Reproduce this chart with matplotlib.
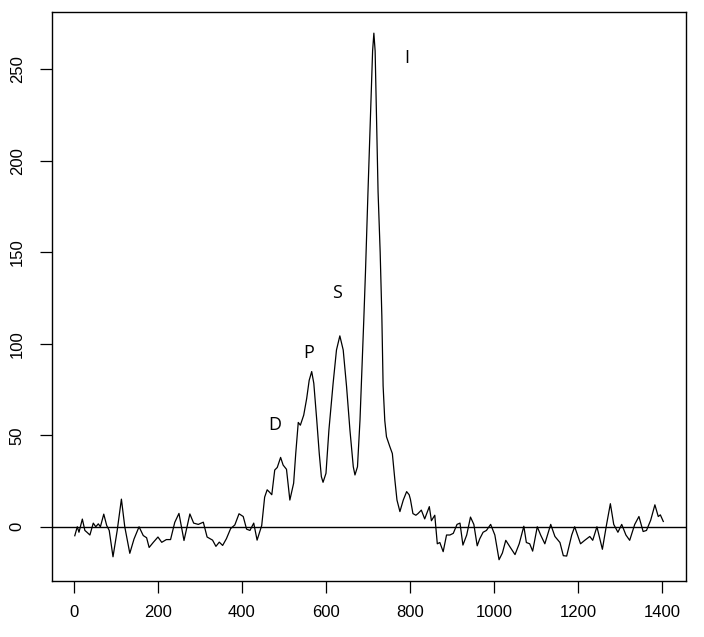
import numpy as np
import matplotlib
matplotlib.use("Agg")
import matplotlib.pyplot as plt

# traced signal (position, intensity)
pos = [2, 8, 12, 20, 26, 31, 38, 46, 52, 58, 63, 71, 78, 84, 93, 103, 113, 121,
       133, 143, 155, 165, 173, 179, 189, 200, 209, 220, 230, 240, 250, 262, 276,
       285, 296, 308, 317, 330, 338, 346, 354, 363, 373, 383, 393, 403, 411, 419,
       428, 436, 447, 454, 460, 466, 471, 478, 484, 492, 498, 506, 514, 523, 528,
       534, 539, 547, 554, 560, 566, 571, 578, 584, 589, 593, 600, 607, 617, 625,
       633, 641, 649, 657, 665, 669, 675, 681, 687, 690, 694, 700, 708, 711, 714,
       717, 719, 724, 729, 733, 736, 740, 744, 752, 758, 764, 769, 776, 784, 792,
       798, 801, 807, 814, 819, 827, 835, 846, 851, 859, 865, 871, 879, 887, 895,
       903, 912, 919, 926, 935, 944, 952, 960, 966, 974, 982, 992, 1002, 1012,
       1020, 1028, 1038, 1050, 1060, 1071, 1077, 1085, 1092, 1103, 1111, 1121,
       1135, 1145, 1157, 1165, 1173, 1185, 1192, 1206, 1216, 1228, 1235, 1245,
       1258, 1268, 1277, 1285, 1295, 1304, 1314, 1323, 1335, 1345, 1355, 1363,
       1373, 1383, 1391, 1396, 1403]
signal = [-4.9, 0, -3, 4.2, -2, -3, -4.5, 2, 0, 1.6, 0, 6.9, 0.7, -2, -16.4, -2,
          15.1, 0, -14.5, -6.7, 0, -4.8, -6, -11.3, -8.5, -5.6, -8.5, -7, -7, 2.4,
          7.3, -7.5, 7, 2, 1.3, 2.5, -5.6, -7.3, -10.7, -8.4, -10.2, -6.5, -1, 1,
          7.1, 5.6, -1.3, -2, 2, -7.3, 0.7, 16.2, 20.2, 18.8, 17.5, 31, 32.4, 37.9,
          33.7, 31.4, 14.6, 23.8, 40, 57, 55.5, 61, 70, 80, 84.8, 78.4, 58.4, 40,
          27.4, 24.3, 29.2, 52.9, 78.4, 96.6, 104.3, 96.6, 76.6, 52.9, 32.8, 28.3,
          32.8, 58.4, 94.8, 113, 139, 183, 238, 260, 269.7, 260, 238, 183, 150,
          115, 77, 58, 49.2, 43.8, 40, 25.6, 14.6, 8.3, 14.6, 19.2, 17.5, 15, 7.2,
          6.3, 7.2, 9.1, 4.3, 11, 3.3, 6.3, -9.3, -8.6, -13.6, -4.5, -4.5, -3.6,
          1.3, 2, -10, -4.5, 5.3, 1.3, -10.4, -6.6, -3, -2, 1.3, -4.5, -18, -14.3,
          -7.4, -11, -15.2, -9.3, 0.3, -8.6, -9.3, -13.3, 0, -4.5, -9.3, 1.3,
          -5.3, -8.6, -15.8, -16, -4.5, 0, -9.3, -7.4, -5.3, -7.4, 0, -12.3, 1.3,
          12.6, 1.3, -3, 1.3, -4.5, -7.4, 1.3, 5.6, -2.6, -2, 3.6, 12, 5.6, 6.5,
          2.9]

# peak labels
peak_names = ["D", "P", "S", "I"]
peak_x = [478, 559, 626, 792]
peak_y = [55.6, 95, 127.6, 256]

x_ticks = [0, 200, 400, 600, 800, 1000, 1200, 1400]
y_ticks = [0, 50, 100, 150, 200, 250]

plt.rcParams["font.family"] = ["Liberation Sans", "DejaVu Sans"]

fig = plt.figure(figsize=(7.04, 6.37), dpi=100)
ax = fig.add_axes([0.0734, 0.088, 0.901, 0.8927])

ax.plot(pos, signal, color="black", lw=0.9)
ax.axhline(0, color="black", lw=1.0)

for name, px_, py_ in zip(peak_names, peak_x, peak_y):
    ax.text(px_, py_, name, ha="center", va="center", fontsize=13,
            family=["Open Sans", "DejaVu Sans"])

ax.set_xlim(-53, 1457)
ax.set_ylim(-29.6, 281.1)
ax.set_xticks(x_ticks)
ax.set_yticks(y_ticks)
ax.set_xticklabels([str(v) for v in x_ticks])
ax.set_yticklabels([str(v) for v in y_ticks], rotation=90, va="center")
ax.tick_params(direction="out", length=8.4, width=0.9, labelsize=12)
ax.tick_params(axis="x", pad=9)
ax.tick_params(axis="y", pad=11)
for s in ax.spines.values():
    s.set_linewidth(1.0)

fig.savefig("out.png", dpi=100)
